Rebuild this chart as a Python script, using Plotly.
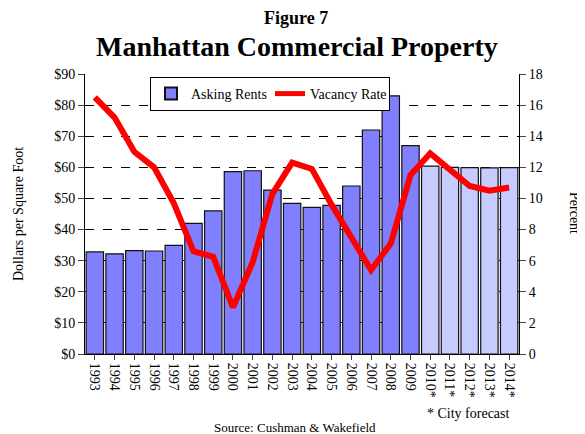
import plotly.graph_objects as go

# categories and values
years = ["1993", "1994", "1995", "1996", "1997", "1998", "1999", "2000", "2001",
         "2002", "2003", "2004", "2005", "2006", "2007", "2008", "2009",
         "2010*", "2011*", "2012*", "2013*", "2014*"]
asking_rents = [32.8, 32.2, 33.2, 33.1, 34.9, 42.0, 46.0, 58.6, 58.9, 52.7, 48.4,
                47.1, 47.8, 54.0, 72.0, 83.0, 67.0, 60.4, 60.0, 59.9, 59.8, 59.9]
vacancy_rate = [16.5, 15.2, 13.0, 12.0, 9.7, 6.6, 6.25, 3.0, 5.9, 10.3, 12.3,
                11.9, 9.6, 7.5, 5.4, 7.1, 11.5, 12.9, 11.8, 10.8, 10.5, 10.7]
forecast = [y.endswith("*") for y in years]

BAR_ACTUAL = "#8080ff"
BAR_FORECAST = "#c6ccff"
SERIF = "Liberation Serif"

# the page body puts the figure 8px in from the top-left corner
OFF = 8
W, H = 585 - OFF, 434 - OFF
L, R, T, B = 85 - OFF, 66, 74 - OFF, 80
PW, PH = W - L - R, H - T - B


def px(x, y):
    """page pixel -> paper coords"""
    return (x - OFF - L) / PW, (H - B - (y - OFF)) / PH


def note(text, x, y, size, angle=0):
    ax, ay = px(x, y)
    return dict(text=text, x=ax, y=ay, xref="paper", yref="paper",
                xanchor="center", yanchor="middle", textangle=angle,
                showarrow=False, font=dict(size=size))


fig = go.Figure()

fig.add_trace(go.Bar(
    x=years, y=asking_rents, name="Asking Rents",
    marker=dict(color=[BAR_FORECAST if f else BAR_ACTUAL for f in forecast],
                line=dict(color="#111111", width=1.2)),
))

fig.add_trace(go.Scatter(
    x=years, y=vacancy_rate, name="Vacancy Rate", yaxis="y2",
    mode="lines", line=dict(color="#ff0000", width=6),
))

lx, ly = px(150, 77)

fig.update_layout(
    width=W, height=H,
    paper_bgcolor="white", plot_bgcolor="white",
    font=dict(family=SERIF, size=13, color="black"),
    margin=dict(l=L, r=R, t=T, b=B),
    bargap=0.12,
    showlegend=True,
    legend=dict(orientation="h", x=lx, y=ly, xanchor="left", yanchor="top",
                bordercolor="black", borderwidth=1, bgcolor="white",
                font=dict(size=14), tracegroupgap=0,
                entrywidth=74, entrywidthmode="pixels",
                itemsizing="constant"),
    xaxis=dict(type="category", tickangle=90, ticks="outside", ticklen=5,
               showline=True, linecolor="black", linewidth=1,
               tickfont=dict(size=14), showgrid=False),
    yaxis=dict(range=[0, 90], dtick=10, tickprefix="$", ticks="outside", ticklen=6,
               showline=True, linecolor="black", linewidth=1,
               showgrid=True, gridcolor="black", griddash="dash", gridwidth=1,
               zeroline=False, tickfont=dict(size=14)),
    yaxis2=dict(range=[0, 18], dtick=2, overlaying="y", side="right",
                ticks="outside", ticklen=6, showline=True, linecolor="black",
                linewidth=1, showgrid=False, zeroline=False,
                tickfont=dict(size=14)),
    annotations=[
        note("<b>Figure 7</b>", 296, 18, 18),
        note("<b>Manhattan Commercial Property</b>", 297, 47, 28),
        note("Dollars per Square Foot", 18, 214, 14, -90),
        note("Percent", 575, 213, 14, 90),
        note("* City forecast", 468, 413, 14),
        note("Source: Cushman &amp; Wakefield", 295, 427, 13),
    ],
)

fig.write_html("out.html")
